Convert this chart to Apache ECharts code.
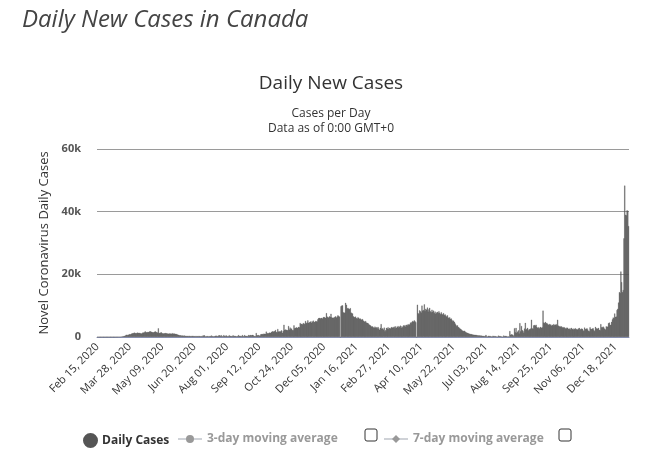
<!DOCTYPE html>
<html>
<head>
<meta charset="utf-8">
<script src="https://cdn.jsdelivr.net/npm/echarts@6/dist/echarts.min.js"></script>
<style>
html,body{margin:0;padding:0;background:#fff;}
#chart{width:650px;height:450px;}
</style>
</head>
<body>
<div id="chart"></div>
<script>
// ---- data (daily new cases) ----
const startDate = [2020, 1, 15]; // Feb 15, 2020 (month 0-based)
const feb2020 = [0,0,0,0,0,0,1,0,1,0,1,1,2,2,1];
const mar2020 = [4,3,3,3,3,8,6,4,8,14,23,25,54,58,61,98,154,153,246,249,359,375,610,723,641,720,757,900,821,1034,1144];
const apr2020 = [1174,1267,1373,1263,1183,1262,1379,1296,1280,1303,1175,1099,1171,1410,1381,1495,1778,1529,1472,1576,1531,1604,1807,1779,1675,1530,1455,1460,1640,1825];
const may2020 = [1653,1497,1408,2760,1310,1236,1418,1472,1146,1165,1118,1165,1283,1155,1188,1095,1042,1119,1103,1078,985,1210,1016,1112,1062,1007,899,927,758,698,558];
const jun2020 = [548,496,450,432,419,402,480,333,371,318,346,294,383,318,279,288,374,299,312,263,296,240,314,262,299,298,280,221,286,218];
const jul2020 = [480,450,520,210,180,300,280,240,230,260,300,480,260,230,190,250,360,420,250,280,440,520,510,300,560,230,210,590,350,300,520];
const aug2020 = [300,240,260,560,320,330,280,260,540,290,350,330,240,220,300,600,360,380,310,260,610,280,240,590,380,350,300,250,620,420,580];
const sep2020 = [620,540,650,580,380,260,300,1270,560,520,600,480,400,850,900,960,870,1050,980,1010,1700,1100,1250,1180,1400,1300,1350,1650,1800,1750];
const oct2020 = [1700,1850,2200,1600,1500,2550,1750,1800,1650,1900,2100,1300,1850,3900,2250,2400,2300,2100,2200,3500,2350,3000,2500,2700,2200,2150,3700,2800,2900,3100,2950];
const nov2020 = [2900,3200,3100,4450,4100,4200,4000,4450,4300,4100,5100,4400,4600,5300,4500,4700,4800,5000,4500,4900,5200,4700,4800,5100,5000,4900,5600,6000,6100,5900];
const dec2020 = [6000,6100,5900,6300,6400,6200,6100,7600,6500,6300,6200,6600,6400,7400,6300,6100,6200,6000,6400,6600,6200,6500,6900,6700,6500,0,9800,10000,10100,7900,7700];
const jan2021 = [7800,10900,10300,9100,9300,9000,8900,9200,7800,7600,7500,6600,6400,6200,6500,6000,5900,6300,6100,5800,5900,5600,5500,5700,5200,5000,4800,5100,4600,4500,4400];
const feb2021 = [4100,3900,3700,3500,3200,3400,3100,2900,3300,3000,3100,2800,3200,2700,2300,2900,4100,2600,2800,2400,3000,1800,2200,2900,2700,3100,2500,2900];
const mar2021 = [2700,3000,3200,2900,3100,3300,2800,3400,2900,3200,3500,3000,3300,3600,2900,3400,3100,3700,3500,3800,3300,3900,3700,4100,3800,4000,4600,4400,4800,5100,4900];
const apr2021 = [5300,5000,4700,0,10300,7600,7300,8500,8200,7800,10000,8400,8600,10400,8300,9000,8700,9400,8100,8800,9300,8200,7900,8700,8000,8400,7600,8100,7400,7800];
const may2021 = [8000,7600,8200,7700,7300,7900,7400,7100,7600,7000,7200,6800,6500,6900,6200,6000,6300,5800,5900,5400,5000,5200,4800,4300,3900,3500,3700,3200,3000,2800,2600];
const jun2021 = [2400,2100,2000,1900,2000,1700,1500,1400,1300,1200,1100,1000,950,900,800,780,720,700,680,650,600,520,480,500,460,440,420,380,350,330];
const jul2021 = [300,320,650,200,150,380,330,310,280,180,120,400,270,300,260,220,150,100,420,300,280,250,180,110,90,450,280,330,300,260,150];
const aug2021 = [180,150,1900,700,850,800,650,300,2800,1500,2900,1300,1700,2100,1100,4400,1800,3500,2200,2000,1400,2700,4500,2300,2600,2900,2100,2500,2400,2700,5500];
const sep2021 = [2800,2600,3700,3800,3600,3900,3200,2900,3100,2700,3000,3200,2900,3100,8400,4600,4400,4800,4300,4500,4100,3900,4200,3800,4000,3600,3900,3700,4100,3800];
const oct2021 = [3900,4100,3700,5500,3600,3300,3500,3200,3400,3000,3200,2900,3100,2800,2700,3000,2900,2600,2500,2800,2400,2900,2600,2300,2700,2500,2800,2400,2600,2300,2700];
const nov2021 = [2900,2400,2500,2700,2600,2100,1900,3000,2500,2600,2800,2400,2000,1800,3100,2600,2500,2700,2800,2200,1900,3200,2700,2800,2600,2900,2300,2100,4100,3100];
const dec2021 = [3100,3300,3000,2600,2400,3400,3200,3300,4400,4600,3800,3900,4800,5600,6200,6000,7500,6400,6500,8600,9000,11000,14300,14000,20900,17500,14300,15000,31500,48300,39000];
const jan2022 = [38800,40400,40300,35400];
const yTicks = [0, 20000, 40000, 60000];
const seriesNames = ['Daily Cases', '3-day moving average', '7-day moving average'];

const dailyCases = [].concat(feb2020, mar2020, apr2020, may2020, jun2020, jul2020, aug2020,
  sep2020, oct2020, nov2020, dec2020, jan2021, feb2021, mar2021, apr2021, may2021, jun2021,
  jul2021, aug2021, sep2021, oct2021, nov2021, dec2021, jan2022);

const monthNames = ['Jan','Feb','Mar','Apr','May','Jun','Jul','Aug','Sep','Oct','Nov','Dec'];
const categories = dailyCases.map(function (v, i) {
  const d = new Date(Date.UTC(startDate[0], startDate[1], startDate[2] + i));
  const dd = String(d.getUTCDate()).padStart(2, '0');
  return monthNames[d.getUTCMonth()] + ' ' + dd + ', ' + d.getUTCFullYear();
});

const FONT = '"Open Sans", "DejaVu Sans", sans-serif';
const chart = echarts.init(document.getElementById('chart'), null, {renderer: 'canvas'});
const legendBase = {
  top: 428, itemGap: 10, inactiveColor: '#999', inactiveBorderColor: '#999',
  textStyle: {fontFamily: FONT, fontSize: 12, fontWeight: 'bold', color: '#333'},
  selected: {'3-day moving average': false, '7-day moving average': false}
};
chart.setOption({
  animation: false,
  textStyle: {fontFamily: FONT},
  graphic: [
    {type: 'text', left: 22, top: 8, style: {text: 'Daily New Cases in Canada', font: 'italic 24px ' + FONT, fill: '#444'}},
    {type: 'text', x: 331, y: 74, style: {text: 'Daily New Cases', font: '19px ' + FONT, fill: '#333', textAlign: 'center'}},
    {type: 'text', x: 331, y: 108, style: {text: 'Cases per Day', font: '12px ' + FONT, fill: '#333', textAlign: 'center'}},
    {type: 'text', x: 331, y: 123, style: {text: 'Data as of 0:00 GMT+0', font: '12px ' + FONT, fill: '#333', textAlign: 'center'}},
    {type: 'rect', shape: {x: 365, y: 429, width: 12, height: 12, r: 2}, style: {fill: '#fff', stroke: '#333', lineWidth: 1}},
    {type: 'rect', shape: {x: 559, y: 429, width: 12, height: 12, r: 2}, style: {fill: '#fff', stroke: '#333', lineWidth: 1}}
  ],
  legend: [
    Object.assign({}, legendBase, {data: [{name: seriesNames[0], icon: 'circle'}], left: 78, itemWidth: 13, itemHeight: 13}),
    Object.assign({}, legendBase, {data: [seriesNames[1]], left: 172, itemWidth: 24, itemHeight: 10}),
    Object.assign({}, legendBase, {data: [seriesNames[2]], left: 378, itemWidth: 24, itemHeight: 10})
  ],
  grid: {left: 97, right: 21, top: 149, bottom: 113},
  xAxis: {
    type: 'category',
    data: categories,
    boundaryGap: true,
    axisLine: {lineStyle: {color: '#8a93b8', width: 1}},
    axisTick: {show: false},
    axisLabel: {interval: 41, rotate: 45, fontSize: 11, color: '#333', margin: 8, fontFamily: FONT}
  },
  yAxis: {
    type: 'value',
    min: yTicks[0], max: yTicks[yTicks.length - 1], interval: yTicks[1] - yTicks[0],
    name: 'Novel Coronavirus Daily Cases',
    nameLocation: 'middle', nameGap: 46,
    nameTextStyle: {fontSize: 13, color: '#333', fontFamily: FONT},
    axisLine: {show: false}, axisTick: {show: false},
    splitLine: {lineStyle: {color: '#9a9a9a', width: 1}},
    axisLabel: {fontSize: 11, color: '#555', fontWeight: 'bold', margin: 16, fontFamily: FONT,
      formatter: function (v) { return v === 0 ? '0' : (v / 1000) + 'k'; }}
  },
  series: [
    {name: seriesNames[0], type: 'bar', data: dailyCases, barCategoryGap: '0%',
      itemStyle: {color: '#555', borderColor: '#555', borderWidth: 0.3}},
    {name: seriesNames[1], type: 'line', data: [], symbol: 'circle', symbolSize: 7, itemStyle: {color: '#999'}, lineStyle: {color: '#999'}},
    {name: seriesNames[2], type: 'line', data: [], symbol: 'diamond', symbolSize: 8, itemStyle: {color: '#999'}, lineStyle: {color: '#999'}}
  ]
});
</script>
</body>
</html>
